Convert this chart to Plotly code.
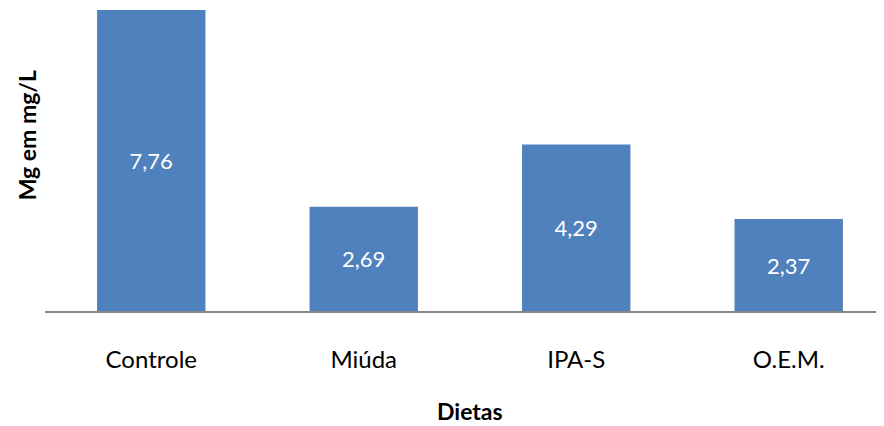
import plotly.graph_objects as go

categories = ["Controle", "Miúda", "IPA-S", "O.E.M."]
values = [7.76, 2.69, 4.29, 2.37]
labels = ["7,76", "2,69", "4,29", "2,37"]

fig = go.Figure()
fig.add_bar(x=categories, y=values, text=labels, textposition="inside",
            insidetextanchor="middle", marker=dict(color="#4F81BD", line=dict(width=0)),
            textfont=dict(color="white", size=22, family="Lato"))

fig.update_layout(
    width=884, height=426,
    margin=dict(l=37, r=0, t=0, b=123),
    plot_bgcolor="white", paper_bgcolor="white",
    bargap=0.49, showlegend=False,
    font=dict(family="Lato", color="#000000"),
    uniformtext=dict(mode="show", minsize=10),
)
fig.update_xaxes(range=[-0.5, 3.486], showline=True, linecolor="#868686", linewidth=1.5,
                 ticks="", tickfont=dict(size=24), ticklabelstandoff=26)
fig.update_yaxes(range=[0, 7.81], showgrid=False, showticklabels=False, zeroline=False)

# axis titles as annotations
fig.add_annotation(text="<b>Mg em mg/L</b>", textangle=-90, xref="paper", yref="paper",
                   x=0, y=0.58, xanchor="center", yanchor="middle", xshift=-18,
                   showarrow=False, font=dict(size=23))
fig.add_annotation(text="<b>Dietas</b>", xref="paper", yref="paper",
                   x=(575.5 - 45) / (892 - 45) - 0.125, y=-0.33, xanchor="center",
                   yanchor="middle", showarrow=False, font=dict(size=23))

fig.write_html("out.html")
